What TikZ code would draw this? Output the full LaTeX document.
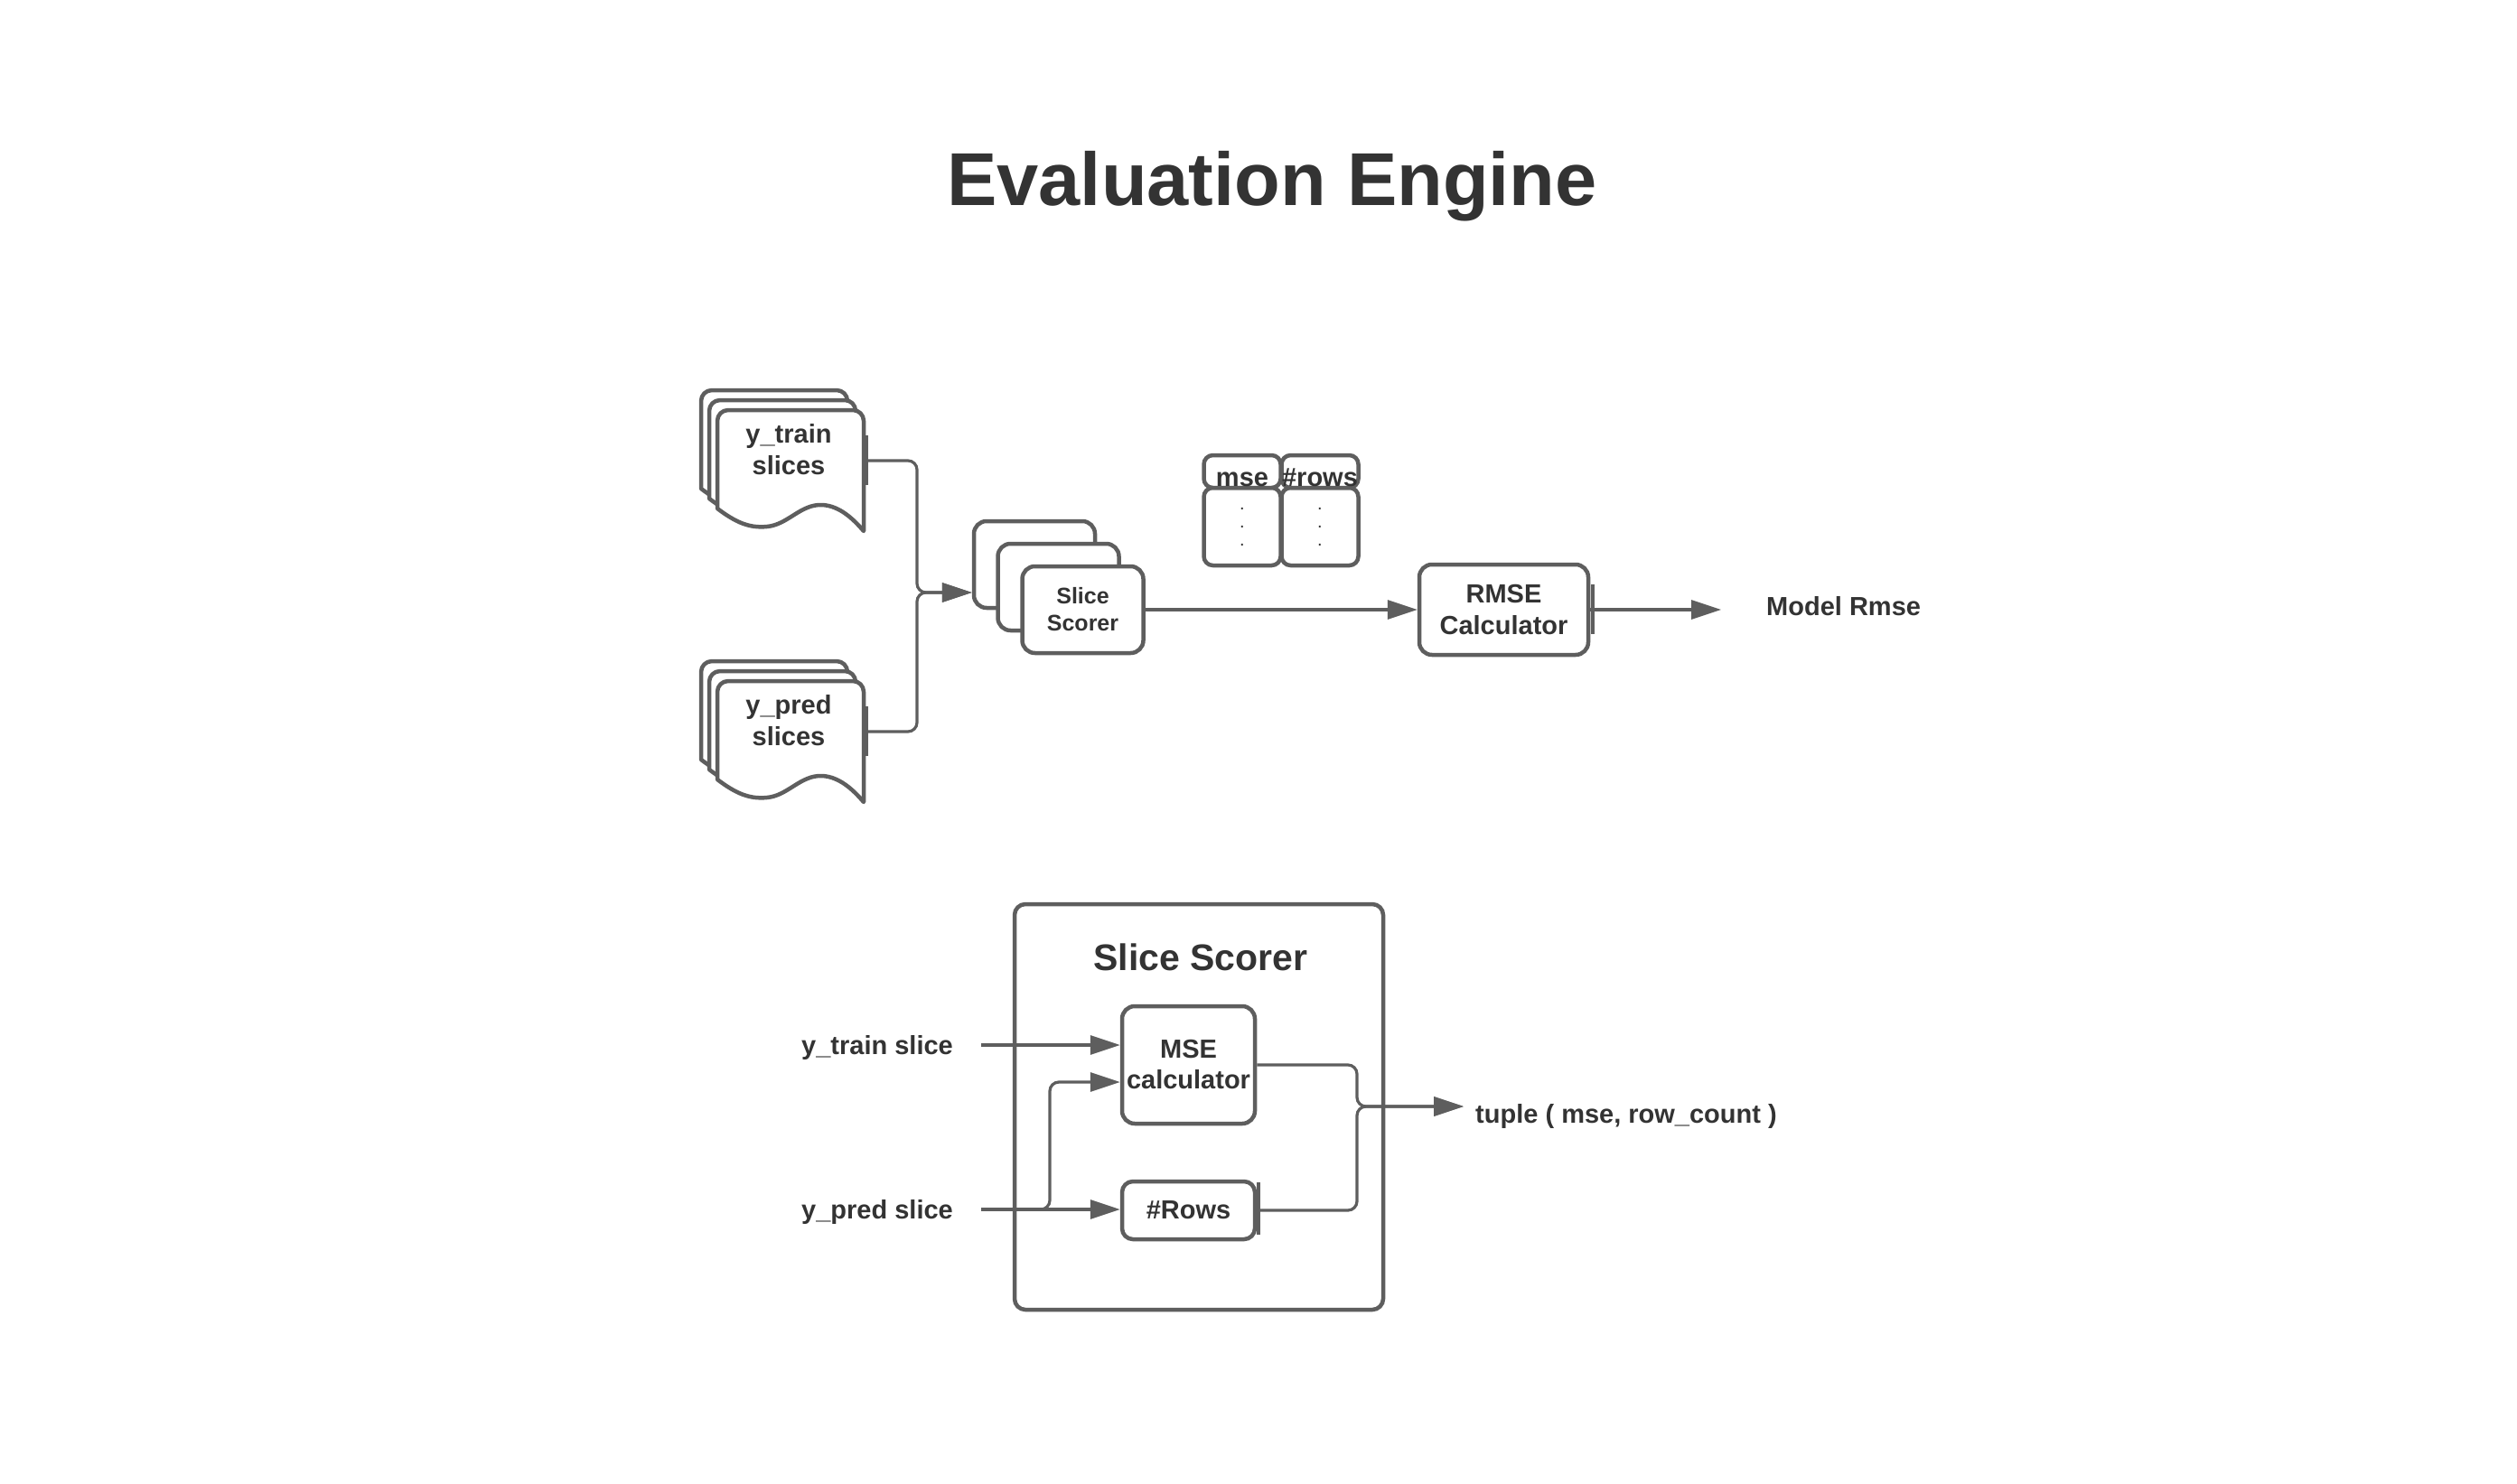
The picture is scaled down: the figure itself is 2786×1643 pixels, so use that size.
\documentclass[tikz,border=0pt]{standalone}
\usepackage{fontspec}
\setmainfont{Liberation Sans}
\usetikzlibrary{arrows.meta,calc}
\definecolor{ln}{RGB}{94,94,94}
\definecolor{tx}{RGB}{51,51,51}
\newcommand\fsz[2]{\fontsize{#1pt}{#2pt}\selectfont}
\newcommand\twoln[2]{\vtop{\halign{\hfil##\hfil\cr#1\cr#2\cr}}}
\newcommand\dotsv{\vtop{\halign{\hfil##\hfil\cr.\cr.\cr.\cr}}}
\newcommand\docshape[1]{%
  \begin{scope}[shift={#1}]
    \path[docline] (0,109) [rounded corners=12pt] -- (0,0) -- (162,0) -- (162,40) [sharp corners] -- (162,134)
      .. controls (150,120) and (135,106) .. (116,105)
      .. controls (92,104) and (78,127) .. (55,129)
      .. controls (35,131) and (20,124) .. (0,109) -- cycle;
  \end{scope}}
\tikzset{
  box/.style={draw=ln, line width=4.5pt, rounded corners=14pt, fill=white, inner sep=0pt,
    text=tx, font=\bfseries\fsz{29}{35}},
  hdr/.style={box, rounded corners=10pt, minimum width=85pt, minimum height=36pt,
    text height=32pt, text depth=0pt},
  colbody/.style={box, rounded corners=10pt, minimum width=85pt, minimum height=86pt,
    font=\fsz{20}{20}},
  conn/.style={draw=ln, line width=3.2pt, rounded corners=10pt},
  arr/.style={conn, -{Triangle[length=33pt,width=21pt]}},
  txt/.style={text=tx, font=\bfseries\fsz{29}{35}, inner sep=0pt},
  tickmark/.style={draw=ln, line width=4pt},
  docline/.style={draw=ln, line width=4.5pt, fill=white, line join=round},
}
\begin{document}
\begin{tikzpicture}[x=1pt,y=-1pt]
\useasboundingbox[fill=white] (0,0) rectangle (2786,1643);

% title
\node[txt, font=\bfseries\fsz{83}{100}, anchor=base] (title) at (1408,227) {Evaluation Engine};

% y_train slices stack
\docshape{(776,432)}
\docshape{(785,443)}
\docshape{(794,454)}
\draw[tickmark] (959,482) -- (959,537);
\node[txt, anchor=base] (ytrtxt) at (873,490) {\twoln{y\_train}{slices}};
\coordinate (ytrout) at (961,510);

% y_pred slices stack
\docshape{(776,732)}
\docshape{(785,743)}
\docshape{(794,754)}
\draw[tickmark] (959,782) -- (959,837);
\node[txt, anchor=base] (yprtxt) at (873,790) {\twoln{y\_pred}{slices}};
\coordinate (yprout) at (961,810);

\coordinate (join) at (1015,656);

% slice scorer stack
\node[box, minimum width=134pt, minimum height=96pt] (ss1) at (1145,625) {};
\node[box, minimum width=134pt, minimum height=96pt] (ss2) at (1171.5,650) {};
\node[box, minimum width=134pt, minimum height=96pt, font=\bfseries\fsz{25}{30}] (ss3) at (1198.5,675) {\twoln{Slice}{Scorer}};

% mse / #rows table
\node[colbody] (msebd) at (1375,583) {\dotsv};
\node[colbody] (rowsbd) at (1461,583) {\dotsv};
\node[hdr] (msehd) at (1375,522) {mse};
\node[hdr] (rowshd) at (1461,522) {\#rows};

% RMSE calculator
\node[box, minimum width=187pt, minimum height=100pt] (rmse) at (1664.5,675) {\twoln{RMSE}{Calculator}};
\draw[tickmark] (1763,647) -- (1763,702);
\coordinate (mrtip) at (1905,675);
\node[txt, anchor=base west] (mr) at (1955,681) {Model Rmse};

% top connectors
\draw[arr] (ytrout) -- (ytrout -| join) -- (join) -- (join -| ss1.west);
\draw[arr] (yprout) -- (yprout -| join) -- (join) -- (join -| ss1.west);
\draw[arr] (ss3.east) -- (ss3.east -| rmse.west);
\draw[arr] (rmse.east) -- (mrtip);

% bottom: slice scorer detail
\node[box, rounded corners=12pt, minimum width=408pt, minimum height=449pt] (big) at (1327,1225.5) {};
\node[txt, font=\bfseries\fsz{41}{49}, anchor=base] (bigttl) at (1329,1074) {Slice Scorer};
\node[box, minimum width=147pt, minimum height=130pt, font=\bfseries\fsz{29}{34}] (msec) at (1315.5,1179) {\twoln{MSE}{calculator}};
\node[box, rounded corners=12pt, minimum width=147pt, minimum height=64pt] (rows) at (1315.5,1340) {\#Rows};
\draw[tickmark] (1393,1309) -- (1393,1367);

\node[txt, anchor=base west] (ytsl) at (887,1167) {y\_train slice};
\node[txt, anchor=base west] (ypsl) at (887,1349) {y\_pred slice};
\coordinate (ytslo) at (1086,1157);
\coordinate (ypslo) at (1086,1339);
\coordinate (br) at (1162,1198);
\coordinate (mrg) at (1502,1225);
\coordinate (tptip) at (1620,1225);
\node[txt, anchor=base west] (tuple) at (1633,1243) {tuple ( mse, row\_count )};

\draw[arr] (ytslo) -- (ytslo -| msec.west);
\draw[arr] (ypslo) -- (ypslo -| rows.west);
\draw[arr] (ypslo) -- (ypslo -| br) -- (br) -- (br -| msec.west);
\draw[arr] (msec.east) -- (msec.east -| mrg) -- (mrg) -- (tptip);
\draw[arr] (rows.east) -- (rows.east -| mrg) -- (mrg) -- (tptip);
\end{tikzpicture}
\end{document}
